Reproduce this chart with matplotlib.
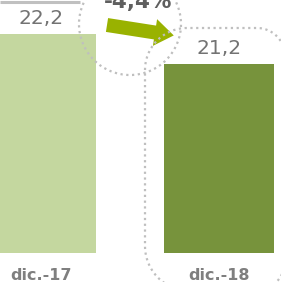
import numpy as np
import matplotlib
matplotlib.use('Agg')
import matplotlib.pyplot as plt
from matplotlib.patches import Circle, FancyArrow

# data
categories = ['dic.-17', 'dic.-18']
values = [22.2, 21.2]
value_labels = ['22,2', '21,2']
change_label = '-4,4%'
bar_colors = ['#c4d79f', '#77933c']

W, H = 281, 282
fig = plt.figure(figsize=(W / 100, H / 100), dpi=100)

# bar axes fills the whole picture
ax = fig.add_axes([0, 0, 1, 1])
base = 14.9
x = np.arange(len(values))
ax.bar(x, np.array(values) - base, bottom=base, width=0.618, color=bar_colors)
ax.set_xlim(-0.2303, 1.348)
ax.set_ylim(13.93, 23.33)
ax.axis('off')

for xi, v, lab in zip(x, values, value_labels):
    ax.annotate(lab, (xi, v), xytext=(0, 7.2), textcoords='offset points',
                ha='center', va='baseline', fontsize=14.5, color='#737373')
for xi, cat in zip(x, categories):
    ax.annotate(cat, (xi, base), xytext=(0, -19.4), textcoords='offset points',
                ha='center', va='baseline', fontsize=11.5, fontweight='bold', color='#7f7f7f')

# overlay in pixel coords for the decorations
ov = fig.add_axes([0, 0, 1, 1])
ov.set_xlim(0, W)
ov.set_ylim(H, 0)
ov.axis('off')
ov.patch.set_alpha(0)


def rounded_box(x0, y0, x1, y1, r_tl, r_tr, r_br, r_bl, n=30):
    # outline of a box with its own radius on each corner (y grows downward)
    pts = []
    def arc(cx, cy, r, a0, a1):
        t = np.linspace(np.radians(a0), np.radians(a1), n)
        return list(zip(cx + r * np.cos(t), cy + r * np.sin(t)))
    pts += arc(x0 + r_tl, y0 + r_tl, r_tl, 180, 270)
    pts += arc(x1 - r_tr, y0 + r_tr, r_tr, 270, 360)
    pts += arc(x1 - r_br, y1 - r_br, r_br, 0, 90)
    pts += arc(x0 + r_bl, y1 - r_bl, r_bl, 90, 180)
    pts.append(pts[0])
    return np.array(pts)


dotted = dict(color='#bfbfbf', lw=1.6, ls=(0, (1, 1.6)))
ov.plot([0, 80], [1.5, 1.5], color='#c0c0c0', lw=2.2, solid_capstyle='butt')
ov.add_patch(Circle((130, 24), 51, fill=False, ec='#bfbfbf', lw=1.6, ls=(0, (1, 1.6))))
box = rounded_box(145, 28, 285, 291, 42, 28, 30, 45)
ov.plot(box[:, 0], box[:, 1], **dotted)
ov.add_patch(FancyArrow(107, 25, 48, 7.5, width=14, head_width=27, head_length=19,
                        length_includes_head=False, color='#99b200', lw=0))
ov.text(138, 8, change_label, ha='center', va='baseline', fontsize=15.5,
        fontweight='bold', color='#5f5f5f')

fig.savefig('out.png', dpi=100)
